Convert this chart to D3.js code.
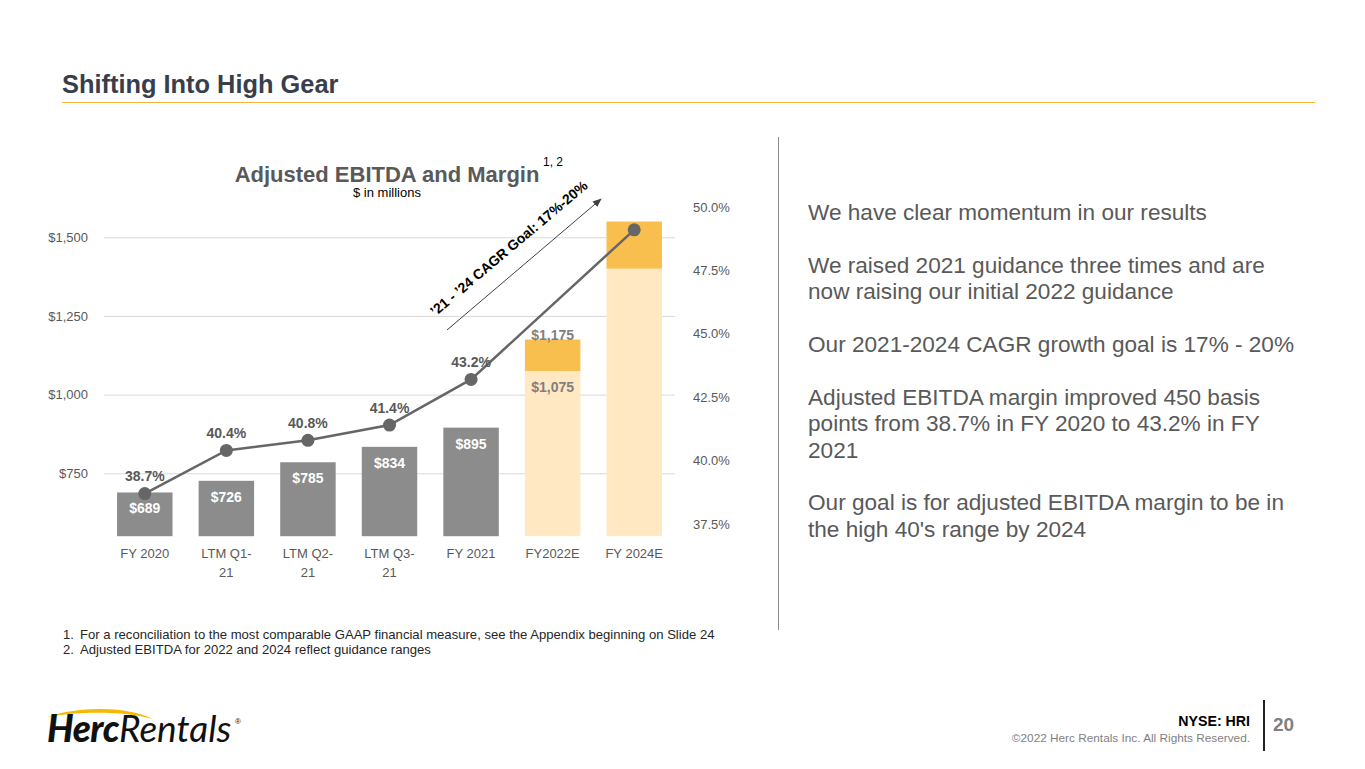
<!DOCTYPE html>
<html>
<head>
<meta charset="utf-8">
<script src="https://cdn.jsdelivr.net/npm/d3@7"></script>
<style>
  body { margin: 0; background: #fff; }
  svg { font-family: "Liberation Sans", Arial, sans-serif; display: block; }
</style>
</head>
<body>
<div id="slide"></div>
<script>
// chart data
const categories = ["FY 2020", "LTM Q1-21", "LTM Q2-21", "LTM Q3-21", "FY 2021", "FY2022E", "FY 2024E"];
const categoryLines = [["FY 2020"], ["LTM Q1-", "21"], ["LTM Q2-", "21"], ["LTM Q3-", "21"], ["FY 2021"], ["FY2022E"], ["FY 2024E"]];
const ebitdaLow = [689, 726, 785, 834, 895, 1075, 1400];
const ebitdaHigh = [null, null, null, null, null, 1175, 1550];
const isEstimate = [false, false, false, false, false, true, true];
const marginPct = [38.7, 40.4, 40.8, 41.4, 43.2, null, 49.1];
const leftTicks = [750, 1000, 1250, 1500];
const rightTicks = [37.5, 40.0, 42.5, 45.0, 47.5, 50.0];

const bullets = [
    ["We have clear momentum in our results"],
    ["We raised 2021 guidance three times and are", "now raising our initial 2022 guidance"],
    ["Our 2021-2024 CAGR growth goal is 17% - 20%"],
    ["Adjusted EBITDA margin improved 450 basis", "points from 38.7% in FY 2020 to 43.2% in FY", "2021"],
    ["Our goal is for adjusted EBITDA margin to be in", "the high 40's range by 2024"]
];
const footnotes = [
    "For a reconciliation to the most comparable GAAP financial measure, see the Appendix beginning on Slide 24",
    "Adjusted EBITDA for 2022 and 2024 reflect guidance ranges"
];

const W = 1365, H = 769;
const svg = d3.select("#slide").append("svg").attr("width", W).attr("height", H);

// slide header
svg.append("text")
    .attr("x", 62).attr("y", 93)
    .style("font-size", "25.4px").style("font-weight", "bold")
    .attr("fill", "#383e4c")
    .text("Shifting Into High Gear");
svg.append("line")
    .attr("x1", 62).attr("x2", 1315).attr("y1", 102.5).attr("y2", 102.5)
    .attr("stroke", "#f4b43c").attr("stroke-width", 1);

// scales
const x = d3.scaleBand().domain(categories).range([104, 675]).padding(0);
const barW = x.bandwidth() * 0.68;
const cx = d => x(d) + x.bandwidth() / 2;
const yL = d3.scaleLinear().domain([550, 1600]).range([536.2, 205.8]);
const yR = d3.scaleLinear().domain([37.5, 50]).range([524, 207]);

// left axis + gridlines
const gLeft = svg.append("g").attr("transform", "translate(104,0)")
    .call(d3.axisLeft(yL).tickValues(leftTicks).tickSize(-(675 - 104)).tickPadding(16)
        .tickFormat(d => "$" + d3.format(",")(d)));
gLeft.select(".domain").remove();
gLeft.selectAll("line").attr("stroke", "#d9d9d9");
gLeft.selectAll("text").attr("fill", "#595959").style("font-size", "13px").attr("font-family", null);

// right axis
const gRight = svg.append("g").attr("transform", "translate(693,0)")
    .call(d3.axisRight(yR).tickValues(rightTicks).tickSize(0).tickPadding(0)
        .tickFormat(d => d3.format(".1f")(d) + "%"));
gRight.select(".domain").remove();
gRight.selectAll("text").attr("fill", "#595959").style("font-size", "13px").attr("font-family", null);

// bottom axis (two-line labels)
const gBottom = svg.append("g").attr("transform", "translate(0,537)")
    .call(d3.axisBottom(x).tickSize(0).tickPadding(0));
gBottom.select(".domain").remove();
gBottom.selectAll("text").attr("font-family", null)
    .style("font-size", "13px").attr("fill", "#595959")
    .attr("y", 0).attr("dy", null)
    .each(function (d, i) {
        const t = d3.select(this).text(null);
        categoryLines[i].forEach((ln, j) => {
            t.append("tspan").attr("x", 0).attr("y", 21 + j * 18.5).text(ln);
        });
    });

const rows = categories.map((c, i) => ({
    cat: c, low: ebitdaLow[i], high: ebitdaHigh[i], est: isEstimate[i], m: marginPct[i]
}));

// bars
svg.selectAll(".bar")
    .data(rows)
    .join("rect")
    .attr("class", "bar")
    .attr("x", d => cx(d.cat) - barW / 2)
    .attr("width", barW)
    .attr("y", d => yL(d.low))
    .attr("height", d => yL(550) - yL(d.low))
    .attr("fill", d => d.est ? "#ffe8c2" : "#8c8c8c");

svg.selectAll(".bar-top")
    .data(rows.filter(d => d.high != null))
    .join("rect")
    .attr("class", "bar-top")
    .attr("x", d => cx(d.cat) - barW / 2)
    .attr("width", barW)
    .attr("y", d => yL(d.high))
    .attr("height", d => yL(d.low) - yL(d.high))
    .attr("fill", "#f9bf4e");

// bar value labels
const money = v => "$" + d3.format(",")(v);
svg.selectAll(".val")
    .data(rows.filter(d => d.cat !== "FY 2024E"))
    .join("text")
    .attr("class", "val")
    .attr("x", d => cx(d.cat))
    .attr("y", d => yL(d.low) + 16)
    .attr("dy", "0.35em")
    .attr("text-anchor", "middle")
    .style("font-size", "14px").style("font-weight", "bold")
    .attr("fill", d => d.est ? "#7f7f7f" : "#ffffff")
    .text(d => money(d.low));

svg.selectAll(".val-high")
    .data(rows.filter(d => d.cat === "FY2022E"))
    .join("text")
    .attr("class", "val-high")
    .attr("x", d => cx(d.cat))
    .attr("y", d => yL(d.high) - 4)
    .attr("dy", "0.35em")
    .attr("text-anchor", "middle")
    .style("font-size", "14px").style("font-weight", "bold")
    .attr("fill", "#7f7f7f")
    .text(d => money(d.high));

// margin line
const pts = rows.filter(d => d.m != null);
svg.append("path")
    .datum(pts)
    .attr("fill", "none")
    .attr("stroke", "#666666")
    .attr("stroke-width", 2.5)
    .attr("d", d3.line().x(d => cx(d.cat)).y(d => yR(d.m)));

svg.selectAll(".dot")
    .data(pts)
    .join("circle")
    .attr("class", "dot")
    .attr("cx", d => cx(d.cat))
    .attr("cy", d => yR(d.m))
    .attr("r", 6.5)
    .attr("fill", "#666666");

svg.selectAll(".mlab")
    .data(pts.filter(d => !d.est))
    .join("text")
    .attr("class", "mlab")
    .attr("x", d => cx(d.cat))
    .attr("y", d => yR(d.m) - 17)
    .attr("dy", "0.35em")
    .attr("text-anchor", "middle")
    .style("font-size", "14px").style("font-weight", "bold")
    .attr("fill", "#595959")
    .text(d => d.m.toFixed(1) + "%");

// chart title
svg.append("text")
    .attr("x", 387).attr("y", 182)
    .attr("text-anchor", "middle")
    .style("font-size", "22px").style("font-weight", "bold")
    .attr("fill", "#595959")
    .text("Adjusted EBITDA and Margin");
svg.append("text")
    .attr("x", 543).attr("y", 166)
    .style("font-size", "12px").attr("fill", "#000")
    .text("1, 2");
svg.append("text")
    .attr("x", 387).attr("y", 197)
    .attr("text-anchor", "middle")
    .style("font-size", "13px")
    .attr("fill", "#000")
    .text("$ in millions");

// CAGR arrow
svg.append("defs").append("marker")
    .attr("id", "arrow").attr("viewBox", "0 0 10 10")
    .attr("refX", 9).attr("refY", 5)
    .attr("markerWidth", 9).attr("markerHeight", 9)
    .attr("orient", "auto")
    .append("path").attr("d", "M0,1 L10,5 L0,9 Z").attr("fill", "#404040");
svg.append("line")
    .attr("x1", 447).attr("y1", 330).attr("x2", 601).attr("y2", 199)
    .attr("stroke", "#404040").attr("stroke-width", 1)
    .attr("marker-end", "url(#arrow)");
svg.append("text")
    .attr("transform", "translate(512,252) rotate(-40.2)")
    .attr("text-anchor", "middle")
    .style("font-size", "14px").style("font-weight", "bold")
    .attr("fill", "#000")
    .text("\u201921 - \u201924 CAGR Goal: 17%-20%");

// divider
svg.append("line")
    .attr("x1", 778.5).attr("x2", 778.5).attr("y1", 137).attr("y2", 630)
    .attr("stroke", "#8c8c8c").attr("stroke-width", 1);

// right-side text
const bt = svg.append("g").attr("fill", "#595959").style("font-size", "22.6px");
let by = 220;
bullets.forEach(par => {
    par.forEach(ln => {
        bt.append("text").attr("x", 808).attr("y", by).text(ln);
        by += 26.4;
    });
    by += 26.4;
});

// footnotes
const fn = svg.append("g").style("font-size", "13.1px").attr("fill", "#262626");
footnotes.forEach((t, i) => {
    fn.append("text").attr("x", 63).attr("y", 639 + i * 14.5).text((i + 1) + ".");
    fn.append("text").attr("x", 80).attr("y", 639 + i * 14.5).text(t);
});

// logo
svg.append("path")
    .attr("d", "M47,717 C75,707 125,705 153,719 C125,711 80,711 47,717 Z")
    .attr("fill", "#f6b800");
const logo = svg.append("text").attr("x", 47).attr("y", 742)
    .attr("font-family", "Lato, 'Open Sans', sans-serif")
    .style("font-size", "37px").style("font-style", "italic").attr("fill", "#111");
logo.append("tspan").style("font-weight", "900").attr("letter-spacing", "-0.5").text("Herc");
logo.append("tspan").style("font-weight", "400").text("Rentals");
svg.append("text").attr("x", 235).attr("y", 724)
    .style("font-size", "8px").attr("fill", "#111").text("\u00ae");

// footer
svg.append("text").attr("x", 1250).attr("y", 726)
    .attr("text-anchor", "end").style("font-size", "14.2px").style("font-weight", "bold")
    .attr("fill", "#000").text("NYSE: HRI");
svg.append("text").attr("x", 1250).attr("y", 742)
    .attr("text-anchor", "end").style("font-size", "11.8px")
    .attr("fill", "#7f7f7f").text("\u00a92022 Herc Rentals Inc.  All Rights Reserved.");
svg.append("line")
    .attr("x1", 1264).attr("x2", 1264).attr("y1", 700).attr("y2", 751)
    .attr("stroke", "#222").attr("stroke-width", 2);
svg.append("text").attr("x", 1273).attr("y", 731)
    .style("font-size", "19px").style("font-weight", "bold")
    .attr("fill", "#808080").text("20");
</script>
</body>
</html>
